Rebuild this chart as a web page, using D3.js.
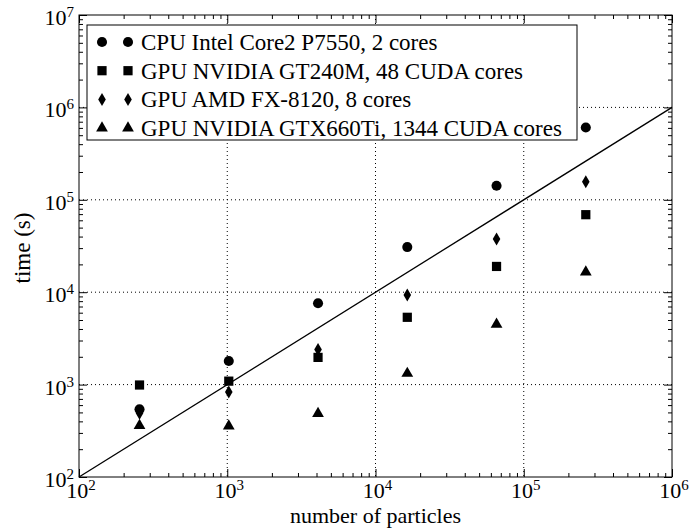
<!DOCTYPE html>
<html lang="en">
<head>
    <meta charset="UTF-8">
    <title>time vs particles</title>
    <style>
        body { margin: 0; background: #fff; }
        text { font-family: "Liberation Serif", "Times New Roman", serif; fill: #000; }
    </style>
</head>
<body>
<script src="https://cdnjs.cloudflare.com/ajax/libs/d3/7.8.5/d3.min.js"></script>
<script>
    var particles = [256, 1024, 4096, 16384, 65536, 262144];
    var cpuTime = [540, 1800, 7600, 30800, 142000, 606000];
    var gt240mTime = [990, 1090, 1970, 5350, 19000, 69000];
    var amdTime = [490, 830, 2400, 9300, 37700, 157000];
    var gtx660Time = [360, 356, 485, 1320, 4500, 16500];
    var seriesNames = ["CPU Intel Core2 P7550, 2 cores",
        "GPU NVIDIA GT240M, 48 CUDA cores",
        "GPU AMD FX-8120, 8 cores",
        "GPU NVIDIA GTX660Ti, 1344 CUDA cores"];
    var xTickExp = [2, 3, 4, 5, 6];
    var yTickExp = [2, 3, 4, 5, 6, 7];

    var width = 691, height = 528;
    var margin = {left: 79, top: 15, right: 19, bottom: 51};
    var w = width - margin.left - margin.right;
    var h = height - margin.top - margin.bottom;

    var svg = d3.select('body').append('svg')
        .attr('width', width).attr('height', height);
    var g = svg.append('g').attr('transform', 'translate(' + margin.left + ',' + margin.top + ')');

    var x = d3.scaleLog().domain([1e2, 1e6]).range([0, w]);
    var y = d3.scaleLog().domain([1e2, 1e7]).range([h, 0]);

    function minors(lo, hi) {
        var out = [];
        for (var e = lo; e < hi; e++)
            for (var k = 2; k < 10; k++) out.push(k * Math.pow(10, e));
        return out;
    }
    var xMajor = xTickExp.map(function(e){ return Math.pow(10, e); });
    var yMajor = yTickExp.map(function(e){ return Math.pow(10, e); });

    // dotted grid
    g.selectAll('.gx').data(xMajor.slice(1, -1)).enter().append('line')
        .attr('x1', function(d){ return x(d); }).attr('x2', function(d){ return x(d); })
        .attr('y1', 0).attr('y2', h)
        .attr('stroke', '#000').attr('stroke-width', 1).attr('stroke-dasharray', '1,3');
    g.selectAll('.gy').data(yMajor.slice(1, -1)).enter().append('line')
        .attr('y1', function(d){ return y(d); }).attr('y2', function(d){ return y(d); })
        .attr('x1', 0).attr('x2', w)
        .attr('stroke', '#000').attr('stroke-width', 1).attr('stroke-dasharray', '1,3');

    // inward ticks on all sides
    function tickAxis(axis, vals, size, tr) {
        var a = g.append('g').attr('transform', tr)
            .call(axis.tickValues(vals).tickSize(size).tickFormat(''));
        a.select('.domain').remove();
        a.selectAll('line').attr('stroke', '#000').attr('stroke-width', 1);
    }
    tickAxis(d3.axisBottom(x), xMajor, -8, 'translate(0,' + h + ')');
    tickAxis(d3.axisBottom(x), minors(2, 6), -4, 'translate(0,' + h + ')');
    tickAxis(d3.axisTop(x), xMajor, -8, 'translate(0,0)');
    tickAxis(d3.axisTop(x), minors(2, 6), -4, 'translate(0,0)');
    tickAxis(d3.axisLeft(y), yMajor, -8, 'translate(0,0)');
    tickAxis(d3.axisLeft(y), minors(2, 7), -4, 'translate(0,0)');
    tickAxis(d3.axisRight(y), yMajor, -8, 'translate(' + w + ',0)');
    tickAxis(d3.axisRight(y), minors(2, 7), -4, 'translate(' + w + ',0)');

    // frame
    g.append('rect').attr('width', w).attr('height', h)
        .attr('fill', 'none').attr('stroke', '#000').attr('stroke-width', 1);

    // y = x reference line
    g.append('line')
        .attr('x1', x(1e2)).attr('y1', y(1e2))
        .attr('x2', x(1e6)).attr('y2', y(1e6))
        .attr('stroke', '#000').attr('stroke-width', 1.3);

    // tick labels
    function powLabel(sel, e) {
        sel.append('tspan').text('10');
        sel.append('tspan').attr('dy', -8).attr('font-size', 15).text(e);
    }
    xTickExp.forEach(function(e) {
        var t = svg.append('text')
            .attr('x', margin.left + x(Math.pow(10, e)) + 2)
            .attr('y', margin.top + h + 21)
            .attr('text-anchor', 'middle')
            .attr('font-size', 22);
        powLabel(t, e);
    });
    yTickExp.forEach(function(e) {
        var t = svg.append('text')
            .attr('x', margin.left - 5)
            .attr('y', margin.top + y(Math.pow(10, e)) + 10)
            .attr('text-anchor', 'end')
            .attr('font-size', 22);
        powLabel(t, e);
    });

    svg.append('text')
        .attr('x', margin.left + w / 2).attr('y', 523)
        .attr('text-anchor', 'middle').attr('font-size', 22)
        .text('number of particles');
    svg.append('text')
        .attr('transform', 'translate(30,' + (margin.top + h / 2 + 2) + ') rotate(-90)')
        .attr('text-anchor', 'middle').attr('font-size', 23)
        .text('time (s)');

    // markers
    var symbols = [
        d3.symbol().type(d3.symbolCircle).size(80),
        d3.symbol().type(d3.symbolSquare).size(85),
        null,
        d3.symbol().type(d3.symbolTriangle).size(60)
    ];
    function diamond() {
        return 'M0,-6.5L3.8,0L0,6.5L-3.8,0Z';
    }
    function markerPath(i) {
        return i === 2 ? diamond() : symbols[i]();
    }
    var series = [cpuTime, gt240mTime, amdTime, gtx660Time];

    series.forEach(function(vals, i) {
        g.append('g').selectAll('path')
            .data(vals).enter().append('path')
            .attr('d', markerPath(i))
            .attr('transform', function(d, j) {
                return 'translate(' + x(particles[j]) + ',' + y(d) + ')';
            })
            .attr('fill', '#000');
    });

    // legend
    var lg = svg.append('g');
    lg.append('rect').attr('x', 87).attr('y', 25).attr('width', 490).attr('height', 115)
        .attr('fill', '#fff').attr('stroke', '#000').attr('stroke-width', 1);
    seriesNames.forEach(function(name, i) {
        var ry = 42 + i * 28.7;
        [102, 128].forEach(function(mx) {
            lg.append('path').attr('d', markerPath(i))
                .attr('transform', 'translate(' + mx + ',' + ry + ')')
                .attr('fill', '#000');
        });
        lg.append('text').attr('x', 141).attr('y', ry + 8)
            .attr('font-size', 23).text(name);
    });
</script>
</body>
</html>
